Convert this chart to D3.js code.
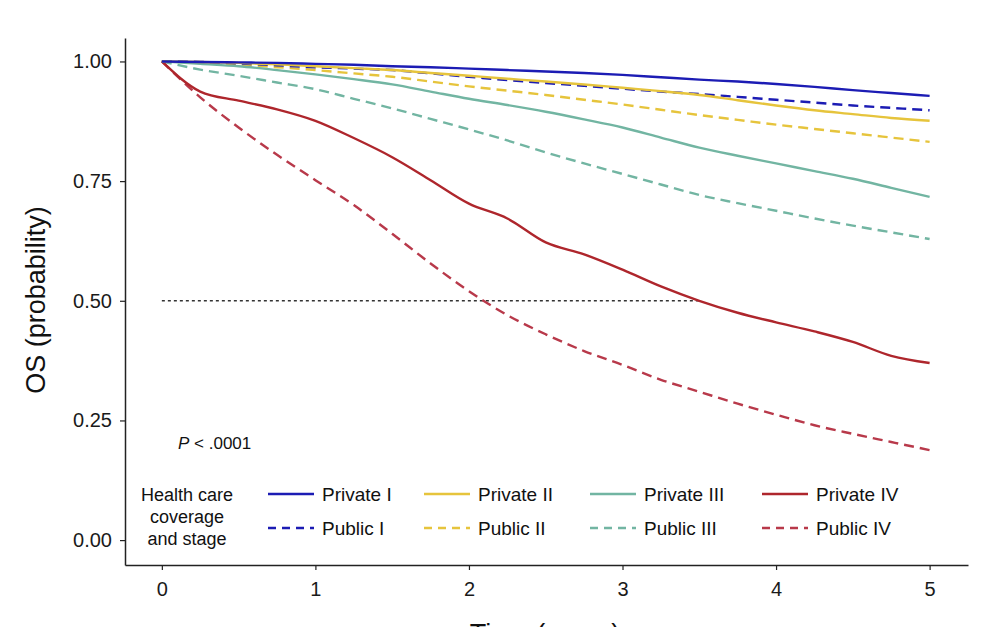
<!DOCTYPE html>
<html>
<head>
<meta charset="utf-8">
<script src="https://cdn.jsdelivr.net/npm/d3@7"></script>
<style>
  body { margin: 0; background: #fff; }
  text { font-family: "Liberation Sans", Arial, sans-serif; }
</style>
</head>
<body>
<svg id="chart" width="983" height="627"></svg>
<script>
// years since diagnosis
var times = [0, 0.25, 0.5, 0.75, 1, 1.25, 1.5, 1.75, 2, 2.25, 2.5, 2.75, 3, 3.25, 3.5, 3.75, 4, 4.25, 4.5, 4.75, 5];

var privateI   = [1, 0.999, 0.998, 0.997, 0.995, 0.993, 0.990, 0.988, 0.985, 0.982, 0.979, 0.976, 0.972, 0.967, 0.962, 0.958, 0.953, 0.947, 0.940, 0.934, 0.928];
var publicI    = [1, 0.999, 0.996, 0.992, 0.988, 0.985, 0.982, 0.975, 0.968, 0.961, 0.955, 0.949, 0.943, 0.937, 0.932, 0.926, 0.920, 0.914, 0.908, 0.903, 0.898];
var privateII  = [1, 0.999, 0.997, 0.994, 0.990, 0.986, 0.982, 0.976, 0.970, 0.964, 0.958, 0.952, 0.945, 0.938, 0.930, 0.919, 0.908, 0.898, 0.890, 0.882, 0.876];
var publicII   = [1, 0.997, 0.993, 0.988, 0.982, 0.975, 0.968, 0.958, 0.948, 0.939, 0.930, 0.920, 0.910, 0.899, 0.888, 0.878, 0.868, 0.859, 0.850, 0.841, 0.832];
var privateIII = [1, 0.995, 0.990, 0.982, 0.973, 0.963, 0.952, 0.937, 0.922, 0.909, 0.895, 0.879, 0.862, 0.841, 0.820, 0.803, 0.787, 0.771, 0.755, 0.736, 0.717];
var publicIII  = [1, 0.983, 0.970, 0.956, 0.942, 0.922, 0.902, 0.880, 0.858, 0.835, 0.810, 0.787, 0.765, 0.743, 0.721, 0.704, 0.688, 0.672, 0.657, 0.643, 0.629];
var privateIV  = [1, 0.937, 0.918, 0.900, 0.876, 0.840, 0.800, 0.752, 0.703, 0.672, 0.622, 0.597, 0.565, 0.530, 0.500, 0.475, 0.455, 0.436, 0.414, 0.385, 0.370];
var publicIV   = [1, 0.925, 0.862, 0.805, 0.752, 0.700, 0.640, 0.578, 0.520, 0.470, 0.430, 0.395, 0.366, 0.335, 0.310, 0.285, 0.262, 0.240, 0.222, 0.205, 0.188];

var xTicks = [0, 1, 2, 3, 4, 5];
var yTicks = [0, 0.25, 0.5, 0.75, 1];

var seriesNames = ["Private I", "Private II", "Private III", "Private IV",
                   "Public I", "Public II", "Public III", "Public IV"];
var seriesValues = [privateI, privateII, privateIII, privateIV,
                    publicI, publicII, publicIII, publicIV];
var seriesColors = ["#1c1cb4", "#e6c43c", "#72b5a2", "#ae262c",
                    "#1c1cb4", "#e6c43c", "#72b5a2", "#b8394a"];

var svg = d3.select("#chart");

var x = d3.scaleLinear().domain([-0.24, 5.25]).range([125, 968]);
var y = d3.scaleLinear().domain([-0.052, 1.049]).range([565, 38]);

// axes
var xAxis = d3.axisBottom(x).tickValues(xTicks).tickFormat(d3.format("d")).tickSize(5).tickSizeOuter(0);
var yAxis = d3.axisLeft(y).tickValues(yTicks).tickFormat(d3.format(".2f")).tickSize(5).tickSizeOuter(0);

var gx = svg.append("g").attr("transform", "translate(0,565)").call(xAxis);
var gy = svg.append("g").attr("transform", "translate(125,0)").call(yAxis);

[gx, gy].forEach(function (g) {
    g.select(".domain").attr("stroke", "#222").attr("stroke-width", 1.5);
    g.selectAll(".tick line").attr("stroke", "#222").attr("stroke-width", 1.2);
    g.selectAll(".tick text")
        .attr("fill", "#1a1a1a")
        .style("font-size", "20px")
        .style("font-family", "'Liberation Sans', Arial, sans-serif");
});
gx.selectAll(".tick text").attr("y", 31).attr("dy", 0);
gy.selectAll(".tick text").attr("x", -13);

// median reference line
svg.append("line")
    .attr("x1", x(0)).attr("x2", x(3.5))
    .attr("y1", y(0.5)).attr("y2", y(0.5))
    .attr("stroke", "#333").attr("stroke-width", 1.6)
    .attr("stroke-dasharray", "3,3");

var line = d3.line()
    .x(function (d, i) { return x(times[i]); })
    .y(function (d) { return y(d); })
    .curve(d3.curveMonotoneX);

// draw public (dashed) first, private (solid) on top
var order = [7, 6, 5, 4, 3, 2, 1, 0];
order.forEach(function (k) {
    svg.append("path")
        .datum(seriesValues[k])
        .attr("d", line)
        .attr("fill", "none")
        .attr("stroke", seriesColors[k])
        .attr("stroke-width", 2.4)
        .attr("stroke-dasharray", k >= 4 ? "10,6" : null);
});

// p value
var pText = svg.append("text")
    .attr("x", 178).attr("y", 449)
    .style("font-size", "17px").attr("fill", "#111");
pText.append("tspan").style("font-style", "italic").text("P");
pText.append("tspan").text(" < .0001");

// legend
var legTitle = ["Health care", "coverage", "and stage"];
svg.append("g").selectAll("text")
    .data(legTitle)
    .enter().append("text")
    .attr("x", 187)
    .attr("y", function (d, i) { return 501 + i * 22; })
    .attr("text-anchor", "middle")
    .style("font-size", "18px")
    .attr("fill", "#111")
    .text(function (d) { return d; });

var colX = [268, 424, 590, 762];
var rowY = [494, 528];
seriesNames.forEach(function (name, k) {
    var col = k % 4, row = Math.floor(k / 4);
    var g = svg.append("g");
    g.append("line")
        .attr("x1", colX[col]).attr("x2", colX[col] + 46)
        .attr("y1", rowY[row]).attr("y2", rowY[row])
        .attr("stroke", seriesColors[k])
        .attr("stroke-width", 2.4)
        .attr("stroke-dasharray", row === 1 ? "8,6" : null);
    g.append("text")
        .attr("x", colX[col] + 54)
        .attr("y", rowY[row] + 7)
        .style("font-size", "19px")
        .attr("fill", "#111")
        .text(name);
});

// axis titles
svg.append("text")
    .attr("transform", "translate(45,300) rotate(-90)")
    .attr("text-anchor", "middle")
    .style("font-size", "27px")
    .attr("fill", "#111")
    .text("OS (probability)");

svg.append("text")
    .attr("x", 545).attr("y", 643)
    .attr("text-anchor", "middle")
    .style("font-size", "27px")
    .attr("fill", "#111")
    .text("Time (years)");
</script>
</body>
</html>
